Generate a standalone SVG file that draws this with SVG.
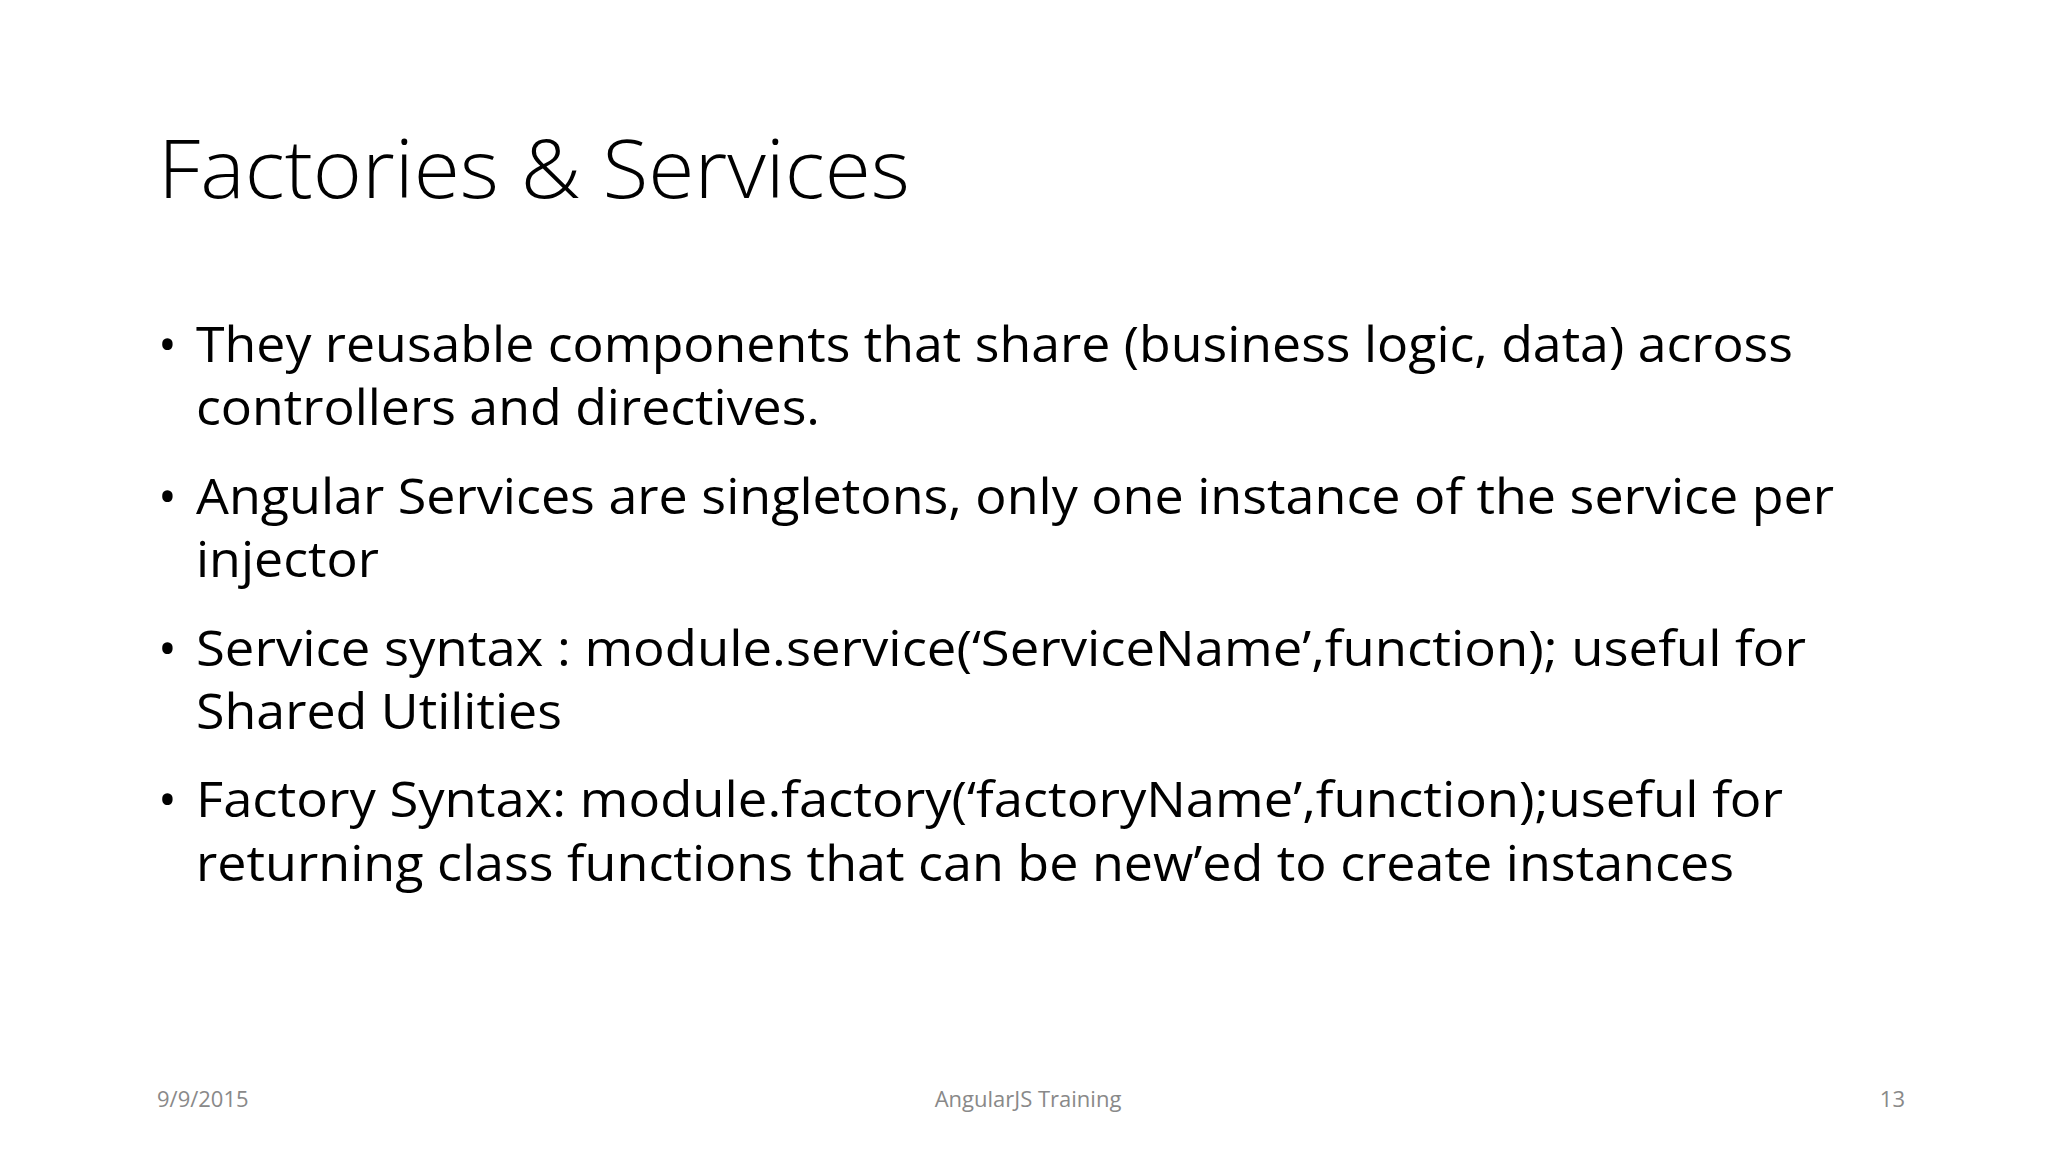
<svg xmlns="http://www.w3.org/2000/svg" width="2048" height="1152" viewBox="0 0 2048 1152">
<style>
.t{font-family:"Open Sans","Liberation Sans",sans-serif;font-weight:300;font-size:82px;fill:#000}
.b{font-family:"Open Sans","Liberation Sans",sans-serif;font-size:50px;fill:#000}
.f{font-family:"Open Sans","Liberation Sans",sans-serif;font-size:22px;fill:#898989}
</style>
<rect width="2048" height="1152" fill="#fff"/>
<g id="title"><text class="t" x="158" y="198" textLength="752" lengthAdjust="spacingAndGlyphs">Factories &amp; Services</text></g>
<g id="body">
<text class="b" x="158" y="362">•</text>
<text class="b" x="196" y="362" textLength="1597" lengthAdjust="spacingAndGlyphs">They reusable components that share (business logic, data) across</text>
<text class="b" x="196" y="425" textLength="624" lengthAdjust="spacingAndGlyphs">controllers and directives.</text>
<text class="b" x="158" y="514">•</text>
<text class="b" x="196" y="514" textLength="1638" lengthAdjust="spacingAndGlyphs">Angular Services are singletons, only one instance of the service per</text>
<text class="b" x="196" y="577" textLength="183" lengthAdjust="spacingAndGlyphs">injector</text>
<text class="b" x="158" y="666">•</text>
<text class="b" x="196" y="666" textLength="1610" lengthAdjust="spacingAndGlyphs">Service syntax : module.service(‘ServiceName’,function); useful for</text>
<text class="b" x="196" y="729" textLength="366" lengthAdjust="spacingAndGlyphs">Shared Utilities</text>
<text class="b" x="158" y="817">•</text>
<text class="b" x="196" y="817" textLength="1587" lengthAdjust="spacingAndGlyphs">Factory Syntax: module.factory(‘factoryName’,function);useful for</text>
<text class="b" x="196" y="881" textLength="1538" lengthAdjust="spacingAndGlyphs">returning class functions that can be new’ed to create instances</text>
</g>
<g id="footer">
<text class="f" x="157" y="1107">9/9/2015</text>
<text class="f" x="1028" y="1107" text-anchor="middle">AngularJS Training</text>
<text class="f" x="1905" y="1107" text-anchor="end">13</text>
</g>
</svg>
